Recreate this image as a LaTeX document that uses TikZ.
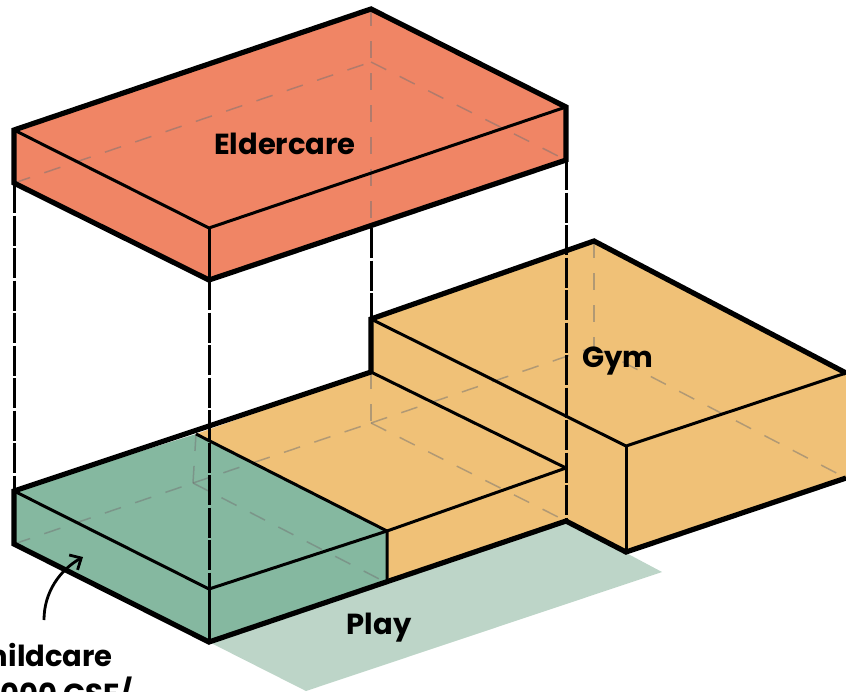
\documentclass[tikz,border=0pt]{standalone}
\usepackage{fontspec}
\setmainfont{Poppins}
\usepackage{tikz}
\usetikzlibrary{arrows.meta}
\definecolor{eldercolor}{HTML}{F08565}
\definecolor{gymcolor}{HTML}{F0C177}
\definecolor{carecolor}{HTML}{85B8A0}
\definecolor{playcolor}{HTML}{BDD5C8}
\tikzset{
  outer/.style = {line width=5.2pt, line join=miter},
  inner/.style = {line width=3pt},
  post/.style = {line width=3pt, dash pattern=on 30pt off 2.5pt},
  hidden/.style = {line width=1.5pt, black!55, opacity=0.5, dash pattern=on 17pt off 15pt},
  tag/.style = {font=\fontsize{29}{32}\selectfont\bfseries, inner sep=0pt}
}
\begin{document}
\begin{tikzpicture}[x=1pt, y=-1pt]
\useasboundingbox (0,0) rectangle (846,691);
% eldercare box
\coordinate (e_l) at (14,130);
\coordinate (e_b) at (371,9);
\coordinate (e_r) at (566,107);
\coordinate (e_f) at (209,228);
\coordinate (e_ll) at (14,183);
\coordinate (e_rr) at (566,160);
\coordinate (e_ff) at (209,280);
\coordinate (e_bb) at (371,62);
% lower slab
\coordinate (s_l) at (14,491);
\coordinate (s_ll) at (14,544);
\coordinate (s_f) at (209,589);
\coordinate (s_ff) at (209,642);
\coordinate (s_b) at (371,372);
\coordinate (s_bb) at (371,423);
\coordinate (s_r) at (566,468);
\coordinate (s_rr) at (566,521);
\coordinate (c_t) at (196,434);
\coordinate (c_m) at (387,531);
\coordinate (c_d) at (387,583);
\coordinate (c_h) at (193,483);
% gym box
\coordinate (g_l) at (371,319);
\coordinate (g_b) at (594,241);
\coordinate (g_r) at (846,373);
\coordinate (g_f) at (626,446);
\coordinate (g_ff) at (626,552);
\coordinate (g_rr) at (846,478);
\coordinate (g_bb) at (594,347);
% play area
\coordinate (p_r) at (662,572);
\coordinate (p_d) at (306,691);
\fill [playcolor] (s_ff) -- (s_rr) -- (p_r) -- (p_d) -- cycle;
% fills
\fill [gymcolor] (c_t) -- (s_b) -- (s_r) -- (s_rr) -- (c_d) -- (c_m) -- cycle;
\fill [carecolor] (s_l) -- (c_t) -- (c_m) -- (c_d) -- (s_ff) -- (s_ll) -- cycle;
\fill [gymcolor] (g_l) -- (g_b) -- (g_r) -- (g_rr) -- (g_ff) -- (s_rr) -- (s_r) -- (s_b) -- cycle;
\fill [eldercolor] (e_l) -- (e_b) -- (e_r) -- (e_rr) -- (e_ff) -- (e_ll) -- cycle;
% hidden edges
\draw [hidden] (s_ll) -- (c_h);
\draw [hidden] (c_h) -- (s_bb);
\draw [hidden] (s_bb) -- (g_bb);
\draw [hidden] (c_t) -- (c_h);
\draw [hidden] (c_h) -- (c_d);
\draw [hidden] (s_b) -- (s_bb);
\draw [hidden] (s_bb) -- (s_rr);
\draw [hidden] (g_b) -- (g_bb);
\draw [hidden] (g_bb) -- (g_rr);
\draw [hidden] (e_ll) -- (e_bb);
\draw [hidden] (e_bb) -- (e_rr);
\draw [hidden] (e_b) -- (371,228);
% posts
\draw [post] (e_ll) -- (s_l);
\draw [post] (e_ff) -- (s_f);
\draw [post] (371,228) -- (g_l);
\draw [post] (e_rr) -- (s_rr);
% inner edges
\draw [inner] (e_l) -- (e_f) -- (e_r);
\draw [inner] (e_f) -- (e_ff);
\draw [inner] (s_l) -- (s_f) -- (c_m) -- (s_r);
\draw [inner] (s_f) -- (s_ff);
\draw [inner] (c_t) -- (c_m) -- (c_d);
\draw [inner] (s_b) -- (s_r);
\draw [inner] (g_l) -- (g_f) -- (g_r);
\draw [inner] (g_f) -- (g_ff);
% outlines
\draw [outer] (e_ll) -- (e_l) -- (e_b) -- (e_r) -- (e_rr) -- (e_ff) -- cycle;
\draw [outer] (s_b) -- (s_l) -- (s_ll) -- (s_ff) -- (s_rr) -- (g_ff) -- (g_rr);
\draw [outer] (s_b) -- (g_l) -- (g_b) -- (g_r);
% labels
\node [tag] (eldercare) at (285,144) {Eldercare};
\node [tag] (gym) at (618,361) {Gym};
\node [tag] (play) at (379,628) {Play};
\node [tag, anchor=base east] (childcare) at (113,666) {Childcare};
\node [tag, anchor=base east] (area) at (133,704) {000 GSF/};
\coordinate (a_s) at (44,620);
\coordinate (a_e) at (83,557);
\draw [line width=2.8pt, -{Straight Barb[length=9pt, width=17pt]}] (a_s) .. controls (44,592) and (60,570) .. (a_e);
\end{tikzpicture}
\end{document}
